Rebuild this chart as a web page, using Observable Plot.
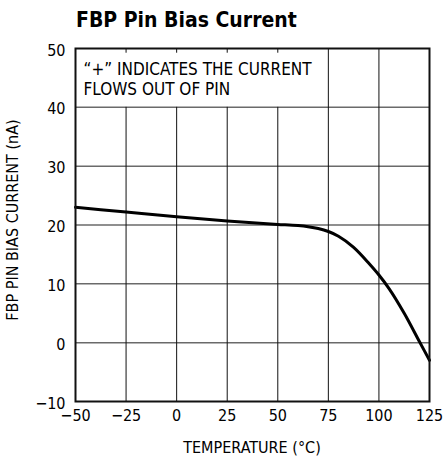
<!DOCTYPE html>
<html><head><meta charset="utf-8">
<script src="https://cdn.jsdelivr.net/npm/d3@7"></script>
<script src="https://cdn.jsdelivr.net/npm/@observablehq/plot@0.6"></script>
<style>
body{margin:0;background:#fff;}
#title{font-family:"DejaVu Sans Condensed","DejaVu Sans",sans-serif;font-stretch:condensed;font-weight:bold;font-size:21px;height:36px;line-height:36px;padding-left:76px;color:#000;box-sizing:border-box;padding-top:2px}
svg text{font-stretch:condensed;}
</style></head>
<body>
<div id="title">FBP Pin Bias Current</div>
<div id="chart"></div>
<script>
const temps = [-50, -25, 0, 25, 50, 60, 65, 70, 75, 80, 87.5, 95, 100, 105, 112.5, 120, 125];
const current = [23, 22.2, 21.4, 20.7, 20.1, 19.9, 19.7, 19.4, 18.9, 18.1, 16.2, 13.5, 11.5, 9.2, 5.0, 0.2, -3];
const xTicks = [-50, -25, 0, 25, 50, 75, 100, 125];
const yTicks = [-10, 0, 10, 20, 30, 40, 50];
const note = ["\u201C+\u201D INDICATES THE CURRENT", "FLOWS OUT OF PIN"];
const xLabel = "TEMPERATURE (\u00B0C)";
const yLabel = "FBP PIN BIAS CURRENT (nA)";

const data = temps.map((t, i) => ({t, c: current[i]}));
const boxTop = 50, boxBottom = 40, boxRight = 75;
const innerX = xTicks.slice(1, -1);
const font = '"DejaVu Sans Condensed","DejaVu Sans",sans-serif';

const chart = Plot.plot({
  width: 445,
  height: 428,
  marginLeft: 75,
  marginRight: 16,
  marginTop: 12,
  marginBottom: 63,
  style: {fontFamily: font, fontSize: "16px", color: "#000", background: "#fff"},
  x: {domain: [-50, 125]},
  y: {domain: [-10, 50]},
  marks: [
    Plot.ruleY(yTicks.slice(1, -1), {stroke: "#6a6a6a", strokeWidth: 1.5}),
    Plot.ruleX(innerX, {y1: -10, y2: d => d < boxRight ? boxBottom : boxTop, stroke: "#111", strokeWidth: 1}),
    Plot.ruleX(innerX.filter(d => d < boxRight), {y1: boxTop, y2: 49.2, stroke: "#111", strokeWidth: 1}),
    Plot.axisX({anchor: "bottom", ticks: xTicks, tickSize: 0, tickPadding: 8, label: null, fontSize: 16}),
    Plot.axisY({anchor: "left", ticks: yTicks, tickSize: 0, tickPadding: 10, dy: 2, label: null, fontSize: 16}),
    Plot.text([note[0]], {x: -50, y: 46.5, text: d => d, textAnchor: "start", dx: 8, fontSize: 17}),
    Plot.text([note[1]], {x: -50, y: 43.1, text: d => d, textAnchor: "start", dx: 8, fontSize: 17}),
    Plot.line(data, {x: "t", y: "c", curve: "monotone-x", stroke: "#000", strokeWidth: 3}),
    Plot.frame({stroke: "#111", strokeWidth: 2})
  ]
});

const svg = d3.select(chart);
svg.append("text").attr("x", 252).attr("y", 417).attr("text-anchor", "middle")
  .style("font-family", font).style("font-size", "16px").text(xLabel);
svg.append("text").attr("transform", "translate(18,184) rotate(-90)").attr("text-anchor", "middle")
  .style("font-family", font).style("font-size", "16px").text(yLabel);
document.getElementById("chart").appendChild(chart);
</script>
</body></html>
